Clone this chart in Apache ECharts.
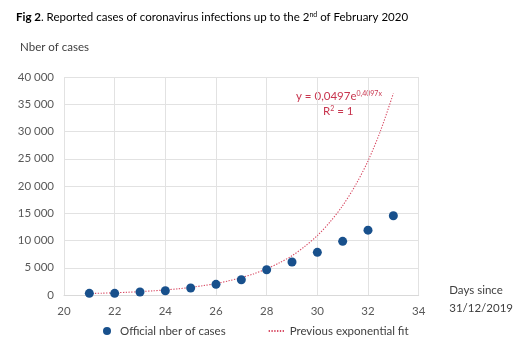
<!DOCTYPE html>
<html><head><meta charset="utf-8">
<script src="https://cdn.jsdelivr.net/npm/echarts@6/dist/echarts.min.js"></script>
<style>html,body{margin:0;padding:0;background:#fff}#c{width:516px;height:348px}</style>
</head><body><div id="c"></div>
<script>
const days = [21, 22, 23, 24, 25, 26, 27, 28, 29, 30, 31, 32, 33];
const officialCases = [310, 310, 550, 790, 1280, 1960, 2800, 4640, 6050, 7830, 9850, 11900, 14550];
const fitDays = [21, 21.5, 22, 22.5, 23, 23.5, 24, 24.5, 25, 25.5, 26, 26.5, 27, 27.5, 28, 28.5, 29, 29.5, 30, 30.5, 31, 31.5, 32, 32.5, 33];
const fitValues = [270, 330, 410, 500, 620, 760, 930, 1140, 1400, 1720, 2100, 2600, 3200, 3900, 4800, 5900, 7200, 8900, 10900, 13400, 16400, 20100, 24600, 30200, 37000];
const xTicks = [20, 22, 24, 26, 28, 30, 32, 34];
const yTicks = [0, 5000, 10000, 15000, 20000, 25000, 30000, 35000, 40000];

const FONT = 'Lato, "Open Sans", sans-serif';
const chart = echarts.init(document.getElementById('c'), null, {renderer: 'canvas'});
const fmt = v => String(v).replace(/\B(?=(\d{3})+(?!\d))/g, ' ');
chart.setOption({
  animation: false,
  textStyle: {fontFamily: FONT},
  title: {
    left: 11, top: 6,
    text: '{b|Fig 2}{n|. Reported cases of coronavirus infections up to the 2}{s|nd}{n| of February 2020}',
    textStyle: {
      fontWeight: 'normal',
      rich: {
        b: {fontFamily: FONT, fontSize: 11.5, fontWeight: 'bold', color: '#000'},
        n: {fontFamily: FONT, fontSize: 11.5, fontWeight: 'normal', color: '#000'},
        s: {fontFamily: FONT, fontSize: 7, fontWeight: 'normal', color: '#000', verticalAlign: 'top', padding: [0, 0, 6, 0]}
      }
    }
  },
  grid: {left: 64, right: 88, top: 77, bottom: 53, containLabel: false},
  xAxis: {
    type: 'value', min: xTicks[0], max: xTicks[xTicks.length - 1], interval: 2,
    name: 'Days since\n31/12/2019', nameLocation: 'end', nameGap: 0,
    nameTextStyle: {fontFamily: FONT, fontSize: 11.5, color: '#404040', align: 'left', verticalAlign: 'top', lineHeight: 18, padding: [-14, 0, 0, 18]},
    axisLine: {lineStyle: {color: '#d9d9d9'}},
    axisTick: {show: false},
    splitLine: {show: true, lineStyle: {color: '#e2e2e2'}},
    axisLabel: {fontFamily: FONT, fontSize: 11.5, color: '#595959', margin: 10}
  },
  yAxis: {
    type: 'value', min: yTicks[0], max: yTicks[yTicks.length - 1], interval: 5000,
    name: 'Nber of cases', nameLocation: 'end', nameGap: 24,
    nameTextStyle: {fontFamily: FONT, fontSize: 11.5, color: '#404040', align: 'left', padding: [0, 0, 0, -44]},
    axisLine: {show: false}, axisTick: {show: false},
    splitLine: {lineStyle: {color: '#e2e2e2'}},
    axisLabel: {fontFamily: FONT, fontSize: 11.5, color: '#595959', margin: 10, formatter: v => fmt(v)}
  },
  legend: {
    bottom: 6, left: 98, itemGap: 42, itemWidth: 16, itemHeight: 8,
    textStyle: {fontFamily: FONT, fontSize: 11.5, color: '#404040'},
    data: [
      {name: 'Official nber of cases', icon: 'circle', itemWidth: 8},
      {name: 'Previous exponential fit', itemStyle: {opacity: 0}}
    ]
  },
  series: [
    {
      name: 'Previous exponential fit', type: 'line', smooth: 0.3,
      showSymbol: false, symbol: 'none',
      data: fitDays.map((d, i) => [d, fitValues[i]]),
      lineStyle: {color: '#d84a63', width: 1.1, type: [1.3, 1.5]},
      itemStyle: {color: '#d84a63'},
      z: 3
    },
    {
      name: 'Official nber of cases', type: 'scatter', symbol: 'circle', symbolSize: 9,
      data: days.map((d, i) => [d, officialCases[i]]),
      itemStyle: {color: '#18508c', opacity: 1},
      z: 4
    }
  ],
  graphic: [
    {type: 'text', left: 296, top: 90, style: {
      text: '{n|y = 0,0497e}{s|0,4097x}', fill: '#c8364f',
      rich: {n: {fontFamily: FONT, fontSize: 11.5, fill: '#c8364f'}, s: {fontFamily: FONT, fontSize: 7, fill: '#c8364f', verticalAlign: 'top', padding: [0, 0, 6, 0]}}
    }},
    {type: 'text', left: 323, top: 105, style: {
      text: '{n|R}{s|2}{n| = 1}', fill: '#c8364f',
      rich: {n: {fontFamily: FONT, fontSize: 11.5, fill: '#c8364f'}, s: {fontFamily: FONT, fontSize: 7, fill: '#c8364f', verticalAlign: 'top', padding: [0, 0, 6, 0]}}
    }}
  ]
});
</script></body></html>
